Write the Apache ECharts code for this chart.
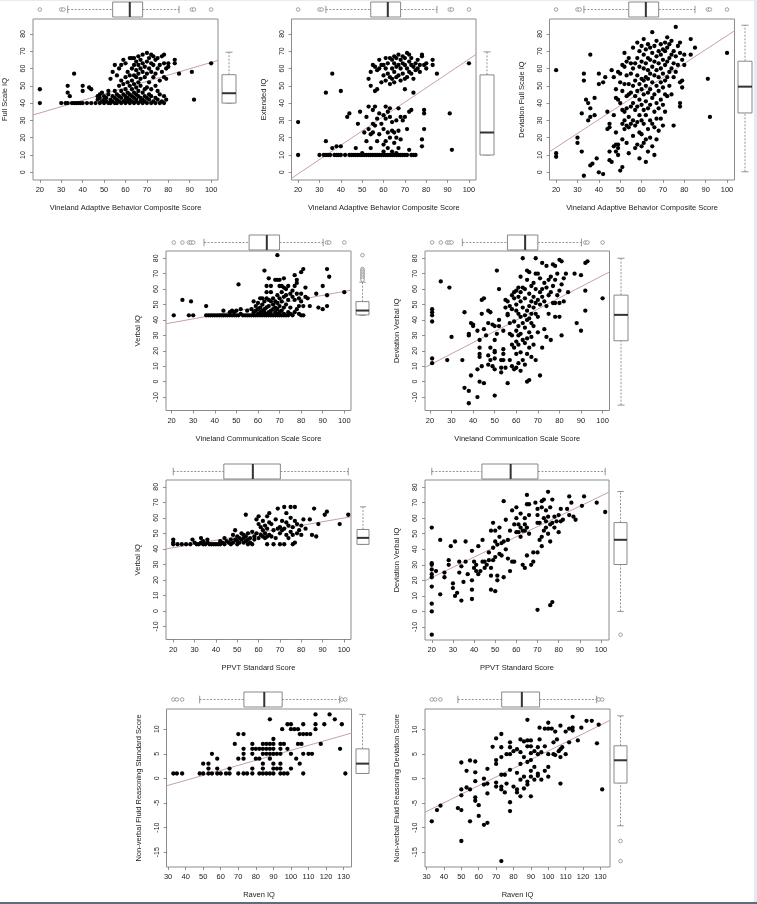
<!DOCTYPE html>
<html><head><meta charset="utf-8">
<script src="https://cdn.jsdelivr.net/npm/echarts@6/dist/echarts.min.js"></script>
<style>
html,body{margin:0;padding:0;background:#fff;}
#wrap{position:relative;width:757px;height:904px;overflow:hidden;}
#chart{position:absolute;left:0;top:0;width:757px;height:904px;}
.edgeR{position:absolute;right:0;top:0;width:3px;height:904px;background:#e3eaf3;}
.edgeT{position:absolute;left:0;top:0;width:757px;height:1px;background:#e6ecf4;}
.edgeB{position:absolute;left:0;bottom:0;width:757px;height:2px;background:#5d6d7e;}
</style></head>
<body><div id="wrap"><div id="chart"></div><div class="edgeR"></div><div class="edgeT"></div><div class="edgeB"></div></div>
<script>
// ---------------- DATA ----------------
const xTitles = ['Vineland Adaptive Behavior Composite Score','Vineland Adaptive Behavior Composite Score','Vineland Adaptive Behavior Composite Score',
  'Vineland Communication Scale Score','Vineland Communication Scale Score','PPVT Standard Score','PPVT Standard Score','Raven IQ','Raven IQ'];
const yTitles = ['Full Scale IQ','Extended IQ','Deviation Full Scale IQ','Verbal IQ','Deviation Verbal IQ','Verbal IQ','Deviation Verbal IQ',
  'Non-verbal Fluid Reasoning Standard Score','Non-verbal Fluid Reasoning Deviation Score'];

const xTicksScore = [20,30,40,50,60,70,80,90,100];
const xTicksRaven = [30,40,50,60,70,80,90,100,110,120,130];
const yTicksIQ = [0,10,20,30,40,50,60,70,80];
const yTicksVerbal = [-10,0,10,20,30,40,50,60,70,80];
const yTicksNFR = [-15,-10,-5,0,5,10];

const p1Points = [[20,48],[20,40],[30,40],[32,40],[33,40],[33,50],[33,46],[34,44],[35,40],[36,57],[36,40],[37,40],[38,40],[39,40],[40,50],[40,47],[40,40],[42,40],[43,49],[44,48],[44,40],[46,40],[47,42],[47,44],[48,40],[48,45],[48,43],[49,41],[49,46],[50,40],[50,42],[50,44],[51,41],[51,43],[52,40],[52,45],[52,47],[53,42],[53,54],[53,40],[54,44],[54,41],[54,58],[55,40],[55,43],[55,47],[55,62],[56,42],[56,45],[56,40],[56,56],[57,41],[57,44],[57,50],[57,60],[58,40],[58,43],[58,47],[58,62],[58,53],[59,41],[59,45],[59,51],[59,65],[60,40],[60,42],[60,44],[60,48],[60,55],[60,63],[61,41],[61,43],[61,46],[61,52],[61,58],[62,40],[62,42],[62,45],[62,50],[62,56],[62,66],[63,41],[63,44],[63,48],[63,53],[63,60],[63,66],[64,40],[64,43],[64,46],[64,51],[64,56],[64,62],[64,66],[65,41],[65,42],[65,45],[65,49],[65,55],[65,59],[65,64],[66,40],[66,44],[66,47],[66,52],[66,57],[66,62],[66,67],[67,41],[67,43],[67,50],[67,54],[67,60],[67,65],[68,40],[68,42],[68,46],[68,58],[68,63],[68,68],[69,41],[69,44],[69,48],[69,55],[69,61],[70,40],[70,43],[70,49],[70,57],[70,64],[70,69],[71,42],[71,45],[71,52],[71,60],[71,66],[72,40],[72,44],[72,48],[72,58],[72,63],[72,68],[73,41],[73,55],[73,62],[73,67],[74,40],[74,43],[74,50],[74,57],[74,65],[75,42],[75,47],[75,60],[75,66],[76,40],[76,45],[76,53],[76,62],[77,41],[77,58],[77,67],[78,40],[78,44],[78,55],[78,63],[78,68],[79,42],[79,54],[79,60],[80,61],[80,63],[83,63],[83,65],[85,57],[91,58],[92,42],[100,63]];

const p2Points = [[20,29],[20,10],[30,10],[32,10],[33,10],[33,18],[33,46],[34,10],[35,10],[36,14],[36,57],[37,10],[38,10],[38,15],[39,10],[40,10],[40,15],[40,47],[42,10],[43,32],[44,34],[44,10],[45,10],[46,10],[47,10],[47,14],[48,10],[48,28],[49,10],[49,35],[50,10],[50,11],[51,10],[51,23],[52,10],[52,18],[52,32],[53,10],[53,25],[53,38],[53,54],[54,10],[54,14],[54,22],[54,58],[54,50],[55,10],[55,23],[55,28],[55,36],[55,62],[56,10],[56,27],[56,38],[56,47],[56,61],[57,10],[57,18],[57,31],[57,48],[57,59],[58,10],[58,22],[58,34],[58,60],[58,65],[59,10],[59,28],[59,52],[59,62],[60,10],[60,12],[60,16],[60,25],[60,33],[60,56],[60,62],[61,10],[61,18],[61,31],[61,38],[61,53],[61,60],[61,66],[62,10],[62,14],[62,23],[62,35],[62,57],[62,63],[63,10],[63,20],[63,32],[63,37],[63,51],[63,55],[63,66],[64,10],[64,12],[64,24],[64,29],[64,54],[64,60],[64,65],[65,10],[65,17],[65,23],[65,52],[65,58],[65,63],[65,67],[66,10],[66,11],[66,20],[66,30],[66,55],[66,61],[66,66],[67,10],[67,14],[67,24],[67,37],[67,56],[67,62],[67,68],[68,10],[68,19],[68,32],[68,53],[68,60],[68,65],[69,10],[69,30],[69,57],[69,63],[69,67],[70,10],[70,32],[70,48],[70,54],[70,62],[70,66],[71,10],[71,25],[71,55],[71,60],[71,69],[72,13],[72,35],[72,58],[72,64],[72,68],[73,10],[73,36],[73,57],[73,62],[73,66],[74,10],[74,46],[74,54],[74,61],[75,10],[75,59],[75,63],[76,60],[76,65],[77,58],[77,62],[78,15],[78,19],[78,67],[78,68],[79,25],[79,34],[79,36],[79,62],[80,63],[80,60],[83,62],[83,65],[85,57],[91,34],[92,13],[100,63]];

const p3Points = [[20,59],[20,11],[20,9],[30,20],[30,17],[32,12],[32,34],[33,-2],[33,53],[33,57],[34,42],[35,40],[35,30],[36,37],[36,68],[36,32],[36,4],[37,5],[38,33],[38,43],[39,8],[40,57],[40,51],[40,0],[42,-1],[42,52],[43,55],[44,35],[44,25],[45,26],[45,28],[45,12],[45,7],[46,6],[46,59],[47,55],[47,33],[47,15],[48,43],[48,48],[48,12],[48,16],[48,23],[49,14],[49,16],[49,10],[49,42],[49,58],[50,1],[50,40],[50,52],[50,57],[51,3],[51,19],[51,28],[51,36],[51,47],[51,62],[52,25],[52,30],[52,35],[52,51],[52,61],[52,69],[53,17],[53,27],[53,37],[53,44],[53,56],[53,64],[54,11],[54,26],[54,32],[54,45],[54,51],[54,66],[55,28],[55,38],[55,46],[55,57],[55,63],[56,21],[56,30],[56,40],[56,50],[56,60],[56,72],[57,14],[57,27],[57,36],[57,44],[57,53],[57,63],[58,16],[58,29],[58,38],[58,47],[58,56],[58,66],[58,75],[59,8],[59,23],[59,33],[59,42],[59,51],[59,61],[59,70],[60,15],[60,22],[60,30],[60,39],[60,48],[60,54],[60,64],[60,73],[61,17],[61,28],[61,36],[61,45],[61,53],[61,60],[61,68],[61,77],[62,6],[62,19],[62,33],[62,41],[62,50],[62,55],[62,63],[62,71],[63,12],[63,25],[63,37],[63,46],[63,54],[63,59],[63,66],[63,74],[64,20],[64,30],[64,39],[64,48],[64,57],[64,65],[64,72],[65,15],[65,28],[65,43],[65,52],[65,61],[65,69],[65,81],[66,10],[66,26],[66,35],[66,45],[66,56],[66,64],[66,73],[67,19],[67,31],[67,40],[67,50],[67,59],[67,67],[67,76],[68,24],[68,37],[68,47],[68,55],[68,63],[68,70],[69,31],[69,42],[69,52],[69,60],[69,68],[69,74],[70,27],[70,39],[70,49],[70,57],[70,65],[70,71],[71,35],[71,45],[71,53],[71,62],[71,70],[71,75],[72,44],[72,55],[72,64],[72,72],[72,78],[73,50],[73,58],[73,66],[73,74],[74,45],[74,60],[74,68],[74,76],[75,27],[75,55],[75,63],[75,70],[76,58],[76,84],[76,67],[77,62],[77,73],[78,38],[78,40],[78,52],[78,69],[78,75],[79,49],[79,53],[79,65],[80,62],[80,68],[83,68],[83,77],[85,72],[91,54],[92,32],[100,69]];

const p4Points = [[21,43],[25,53],[28,43],[29,52],[30,43],[36,49],[36,43],[37,43],[38,43],[39,43],[40,43],[41,43],[42,43],[43,43],[44,43],[44,46],[45,43],[46,43],[47,43],[47,45],[48,43],[48,46],[49,43],[49,45],[50,43],[50,46],[51,63],[51,43],[52,44],[52,47],[53,43],[54,43],[55,43],[55,46],[56,43],[57,43],[57,47],[58,43],[58,45],[58,52],[59,43],[59,46],[59,49],[60,43],[60,44],[60,47],[60,51],[61,43],[61,45],[61,48],[61,54],[62,43],[62,44],[62,46],[62,50],[62,54],[63,43],[63,45],[63,47],[63,52],[63,72],[64,43],[64,44],[64,48],[64,54],[64,58],[64,62],[65,43],[65,45],[65,49],[65,53],[65,67],[66,43],[66,44],[66,46],[66,52],[66,58],[66,62],[67,43],[67,47],[67,50],[67,54],[68,43],[68,45],[68,48],[68,52],[68,66],[69,43],[69,44],[69,47],[69,51],[69,56],[69,82],[69,66],[70,43],[70,45],[70,49],[70,54],[70,62],[70,66],[71,43],[71,46],[71,52],[71,58],[71,62],[72,43],[72,44],[72,48],[72,55],[72,67],[72,61],[73,43],[73,50],[73,56],[73,60],[74,43],[74,45],[74,53],[74,62],[75,44],[75,48],[75,57],[76,43],[76,55],[76,59],[77,45],[77,53],[77,69],[77,62],[78,47],[78,57],[78,64],[78,66],[79,44],[79,49],[79,54],[80,43],[80,52],[80,57],[80,71],[81,73],[81,43],[81,49],[82,55],[82,61],[83,54],[84,49],[87,57],[88,48],[90,47],[90,62],[92,49],[92,56],[92,73],[93,68],[100,58]];

const p5Points = [[21,47],[21,45],[21,43],[21,39],[21,15],[21,12],[25,65],[28,14],[29,61],[30,29],[35,14],[36,45],[36,-4],[38,-6],[38,-14],[38,30],[38,31],[39,38],[39,4],[40,37],[40,36],[42,33],[42,8],[42,-10],[43,27],[43,22],[43,18],[43,16],[43,0],[44,53],[44,44],[44,10],[45,-1],[45,54],[45,34],[46,30],[47,46],[47,38],[47,17],[47,11],[48,22],[48,14],[48,45],[49,37],[49,10],[50,36],[50,27],[50,20],[50,19],[50,15],[50,8],[50,-9],[51,72],[51,31],[52,60],[52,40],[52,36],[53,14],[53,9],[53,6],[54,33],[54,21],[54,18],[54,14],[55,9],[55,48],[55,53],[56,-1],[56,43],[56,44],[56,52],[57,31],[57,14],[57,38],[57,49],[58,56],[58,47],[58,30],[58,24],[58,10],[59,58],[59,54],[59,39],[59,22],[59,8],[60,59],[60,50],[60,46],[60,33],[60,26],[60,18],[60,9],[61,61],[61,55],[61,44],[61,36],[61,30],[61,24],[61,12],[62,68],[62,58],[62,52],[62,42],[62,31],[62,19],[62,7],[63,80],[63,61],[63,48],[63,38],[63,27],[63,14],[64,60],[64,54],[64,43],[64,35],[64,25],[64,11],[65,72],[65,66],[65,46],[65,40],[65,28],[65,18],[65,0],[66,71],[66,57],[66,49],[66,41],[66,32],[66,22],[66,1],[67,62],[67,52],[67,44],[67,38],[67,29],[67,16],[68,64],[68,55],[68,48],[68,36],[68,24],[69,80],[69,70],[69,60],[69,51],[69,44],[69,14],[70,70],[70,53],[70,42],[70,32],[71,67],[71,58],[71,50],[71,4],[72,77],[72,60],[72,22],[72,55],[73,64],[73,52],[73,34],[74,75],[74,61],[74,29],[74,49],[75,66],[75,56],[75,44],[76,68],[76,58],[76,27],[77,76],[77,51],[77,62],[78,75],[78,66],[78,42],[78,51],[79,56],[79,70],[80,79],[80,59],[80,42],[80,51],[81,78],[81,30],[81,63],[82,67],[82,52],[83,70],[84,58],[87,70],[88,38],[90,69],[90,33],[92,77],[92,59],[92,46],[93,78],[100,54]];

const p6Points = [[20,46],[20,44],[20,43],[22,43],[24,43],[26,43],[28,43],[29,46],[30,44],[31,43],[32,43],[33,47],[33,44],[34,43],[34,45],[35,43],[36,44],[36,46],[37,43],[38,43],[39,43],[40,43],[41,43],[42,45],[42,43],[43,44],[44,47],[44,43],[45,45],[46,44],[47,43],[47,46],[48,49],[48,44],[49,52],[49,46],[50,43],[50,45],[50,48],[51,44],[51,47],[52,50],[52,46],[53,44],[53,47],[53,49],[54,62],[54,45],[54,48],[55,43],[55,46],[55,50],[56,47],[56,44],[57,51],[57,43],[58,48],[58,46],[59,59],[59,50],[60,61],[60,47],[60,56],[61,49],[61,54],[62,48],[62,52],[62,58],[63,47],[63,50],[63,55],[64,43],[64,48],[64,53],[64,61],[65,63],[65,49],[65,57],[66,56],[66,48],[67,43],[67,52],[68,47],[68,59],[69,66],[69,53],[70,43],[70,50],[70,54],[71,52],[71,58],[72,43],[72,67],[72,53],[73,63],[73,49],[73,57],[74,47],[74,55],[75,67],[75,60],[75,51],[76,43],[76,54],[76,49],[77,44],[77,67],[77,58],[78,50],[78,56],[79,52],[80,49],[80,55],[81,59],[82,53],[84,59],[85,49],[86,66],[87,48],[88,56],[91,62],[92,64],[98,56],[102,62]];

const p7Points = [[20,54],[20,31],[20,30],[20,27],[20,24],[20,22],[20,16],[20,5],[20,0],[20,-15],[22,26],[24,46],[24,11],[26,25],[26,22],[28,33],[28,30],[29,42],[30,18],[30,15],[31,45],[31,10],[32,12],[33,32],[33,25],[34,7],[34,29],[35,19],[36,45],[36,32],[37,24],[39,39],[39,20],[39,14],[39,8],[40,32],[40,28],[41,30],[41,26],[42,24],[42,42],[43,26],[44,46],[44,32],[45,32],[45,28],[46,30],[47,38],[47,33],[48,52],[48,14],[48,28],[48,23],[49,57],[49,41],[49,33],[50,45],[50,35],[50,13],[50,52],[51,43],[51,20],[51,23],[52,48],[52,54],[52,37],[53,44],[53,36],[54,71],[54,45],[54,22],[55,59],[55,40],[56,46],[56,34],[57,52],[57,26],[58,65],[58,32],[59,56],[59,32],[60,67],[60,60],[60,51],[61,51],[61,56],[62,48],[62,63],[62,54],[63,30],[63,52],[64,28],[64,52],[64,56],[64,60],[65,75],[65,69],[65,36],[65,54],[66,62],[66,50],[66,69],[67,30],[68,32],[68,38],[69,70],[70,66],[70,62],[70,57],[70,38],[70,1],[71,46],[71,57],[72,71],[72,67],[72,48],[72,42],[73,72],[73,60],[73,52],[74,65],[74,58],[74,54],[75,77],[75,61],[75,50],[76,67],[76,56],[76,45],[76,4],[77,72],[77,6],[77,57],[78,61],[78,54],[79,58],[80,62],[80,51],[81,66],[81,58],[82,59],[84,66],[85,74],[85,62],[86,70],[87,61],[88,59],[91,68],[92,74],[98,70],[102,64]];

const p8Points = [[33,1],[35,1],[38,1],[48,1],[50,1],[50,3],[53,3],[53,2],[53,1],[55,5],[55,1],[58,4],[58,2],[58,1],[60,1],[63,1],[65,2],[65,1],[68,7],[70,9],[70,4],[70,1],[73,9],[73,6],[73,5],[73,4],[73,1],[75,1],[78,7],[78,6],[78,5],[78,2],[78,1],[80,6],[80,4],[82,6],[82,4],[82,1],[84,7],[84,6],[84,5],[84,3],[84,2],[84,1],[86,7],[86,6],[86,5],[86,1],[88,12],[88,7],[88,6],[88,5],[88,4],[88,1],[90,8],[90,7],[90,6],[90,5],[90,3],[90,2],[90,1],[92,5],[92,2],[94,7],[94,6],[94,5],[94,3],[94,2],[94,1],[95,10],[96,7],[96,1],[98,11],[98,6],[98,1],[100,11],[100,10],[100,5],[100,2],[102,10],[103,4],[104,10],[104,7],[105,9],[105,3],[106,7],[107,11],[107,9],[107,5],[107,1],[109,9],[110,5],[111,9],[112,5],[114,13],[114,11],[114,10],[117,7],[119,11],[122,13],[125,12],[128,6],[129,11],[131,1]];

const p9Points = [[33,-8.7],[36,-6.4],[38,-5.5],[48,-6],[50,-6.4],[50,-12.7],[50,3.3],[50,-2.2],[50,-3.4],[53,1.6],[53,-1.8],[55,3.7],[55,-8.7],[55,-2.2],[58,3.5],[58,1.3],[58,-0.5],[58,-3.8],[58,-4.5],[60,-5.4],[60,-7.6],[63,-9.4],[63,-1.2],[63,0],[65,2],[65,-1],[65,-3],[65,-9],[68,6.5],[70,8.2],[70,3.8],[70,3],[70,-0.8],[70,-1.6],[73,9.1],[73,6.4],[73,4.4],[73,0.8],[73,-1.6],[73,-2.2],[73,-16.8],[75,0.8],[75,-2.8],[76,5],[76,-1],[78,7.4],[78,6.4],[78,5],[78,1.8],[78,-4.8],[78,-6.6],[80,5.6],[80,-1.6],[82,6],[82,1.2],[82,-2.2],[82,-2.8],[84,8],[84,5.4],[84,3],[84,-0.2],[84,-3.6],[86,7.6],[86,4.4],[86,0.4],[86,-2],[88,12],[88,7.8],[88,6.6],[88,3.4],[88,-0.6],[88,-1.2],[90,7.8],[90,6.6],[90,5.2],[90,3.8],[90,1.6],[90,0.4],[90,-3.6],[92,5.6],[92,2.4],[92,-0.2],[94,6.4],[94,5],[94,1],[94,0.6],[95,10.4],[95,8],[96,5.4],[96,-0.2],[98,10.2],[98,6.6],[98,1.6],[100,11.4],[100,10.2],[100,5],[100,2.4],[100,0.4],[102,10.2],[103,7.4],[103,5],[104,9.6],[104,4.8],[105,8],[106,5.6],[107,10.8],[107,6],[107,4.4],[107,-1],[108,6.4],[110,9.6],[110,5],[112,7.4],[112,10.2],[114,12.6],[114,10.4],[114,9.8],[117,7.8],[119,10.4],[122,11.8],[125,11.8],[128,7.2],[129,11],[131,-2.2]];

// box statistics: [Q1, median, Q3, lower whisker, upper whisker]
const topBoxStats = [[54,62,68,33,85],[54,62,68,33,85],[54,62,68,33,85],
  [55.9,64.1,70,35,90.2],[55.9,64.1,70,35,90.2],[43.7,57.3,70.2,20,102],[43.7,57.3,70.2,20,102],
  [73.2,84.8,95,48,127.8],[73.2,84.8,95,48,127.8]];
const rightBoxStats = [[40,45.7,56.4,40,69.4],[10,23,56.3,10,69.6],[34.3,49.5,64.2,0.3,85],
  [43.3,46.1,51.9,43,64.5],[26.5,43.3,56.1,-15.2,80],[42.9,47.1,52.5,43,67.1],[30.2,46.1,57.2,0,77.2],
  [1,3,6,1,13],[-0.9,3.75,6.7,-9.6,12.8]];
const topOutliers = [[20,30,31,91,92,100],[20,30,31,91,92,100],[20,30,31,91,92,100],
  [21,25,28,29,30,92,93,100],[21,25,28,29,30,92,93,100],[],[],[33,35,38,129,131],[33,35,38,129,131]];
const rightOutliers = [[],[],[],[82,73,72,71,70,69,68,67,66],[],[],[-15],[],[-12.7,-16.8]];

// fitted regression lines
const fitIntercept = [27.0,-17.5,-1.75,33.1,-3.6,36.0,8.7,-4.46,-11.96];
const fitSlope = [0.365,0.829,0.807,0.254,0.724,0.239,0.656,0.1016,0.176];

const allPoints = [p1Points,p2Points,p3Points,p4Points,p5Points,p6Points,p7Points,p8Points,p9Points];
const xTickSets = [xTicksScore,xTicksScore,xTicksScore,xTicksScore,xTicksScore,xTicksScore,xTicksScore,xTicksRaven,xTicksRaven];
const yTickSets = [yTicksIQ,yTicksIQ,yTicksIQ,yTicksVerbal,yTicksVerbal,yTicksVerbal,yTicksVerbal,yTicksNFR,yTicksNFR];

// ---------------- LAYOUT ----------------
const layout = [
  {L:33,R:218,T:19,B:180,xMin:16.8,xMax:103.2,yMin:-4.45,yMax:88.6,tbT:2,tbB:17,rbL:222,rbR:236},
  {L:291.5,R:476,T:19,B:180,xMin:16.9,xMax:103.3,yMin:-4.45,yMax:88.6,tbT:2,tbB:17,rbL:480,rbR:494},
  {L:549.5,R:734.5,T:19,B:180,xMin:16.9,xMax:103.5,yMin:-4.45,yMax:88.6,tbT:2,tbB:17,rbL:738,rbR:752},
  {L:166,R:351,T:251,B:410.5,xMin:17.4,xMax:103.1,yMin:-18.7,yMax:84.7,tbT:235,tbB:250,rbL:356,rbR:369},
  {L:425,R:609.5,T:251,B:410.5,xMin:17.7,xMax:103.2,yMin:-18.7,yMax:84.7,tbT:235,tbB:250,rbL:614,rbR:628},
  {L:166,R:351,T:480,B:639.5,xMin:16.6,xMax:103.3,yMin:-18.4,yMax:84.4,tbT:464,tbB:479,rbL:357,rbR:369},
  {L:425,R:609,T:480,B:640,xMin:16.8,xMax:103.8,yMin:-18.4,yMax:84.6,tbT:464,tbB:479,rbL:614,rbR:627},
  {L:166.5,R:351.5,T:709,B:867,xMin:29.1,xMax:134.5,yMin:-18,yMax:14.1,tbT:692,tbB:707,rbL:356,rbR:369},
  {L:425,R:610,T:709,B:867,xMin:29.1,xMax:135.5,yMin:-18,yMax:14.2,tbT:692,tbB:707,rbL:614,rbR:627}
];

const FONT = '"Liberation Sans", Arial, sans-serif';
const TXT = '#222';
const FRAME = '#8c8c8c';
const BOXC = '#7a7a7a';

function boxH(params, api){
  const q1=api.value(0), md=api.value(1), q3=api.value(2), lo=api.value(3), hi=api.value(4);
  const yT=api.coord([q1,1])[1], yB=api.coord([q1,0])[1], yM=(yT+yB)/2, h=yB-yT;
  const X=v=>api.coord([v,0.5])[0];
  const dash={stroke:BOXC,lineWidth:0.8,lineDash:[2,1.5],fill:null};
  const solid={stroke:BOXC,lineWidth:0.8,fill:null};
  return {type:'group',children:[
    {type:'line',shape:{x1:X(lo),y1:yM,x2:X(q1),y2:yM},style:dash},
    {type:'line',shape:{x1:X(q3),y1:yM,x2:X(hi),y2:yM},style:dash},
    {type:'line',shape:{x1:X(lo),y1:yM-h/4,x2:X(lo),y2:yM+h/4},style:solid},
    {type:'line',shape:{x1:X(hi),y1:yM-h/4,x2:X(hi),y2:yM+h/4},style:solid},
    {type:'rect',shape:{x:X(q1),y:yT,width:X(q3)-X(q1),height:h},style:{fill:'#fff',stroke:BOXC,lineWidth:0.9}},
    {type:'line',shape:{x1:X(md),y1:yT,x2:X(md),y2:yB},style:{stroke:'#333',lineWidth:2}}
  ]};
}
function boxV(params, api){
  const q1=api.value(0), md=api.value(1), q3=api.value(2), lo=api.value(3), hi=api.value(4);
  const xL=api.coord([0,q1])[0], xR=api.coord([1,q1])[0], xM=(xL+xR)/2, w=xR-xL;
  const Y=v=>api.coord([0.5,v])[1];
  const dash={stroke:BOXC,lineWidth:0.8,lineDash:[2,1.5],fill:null};
  const solid={stroke:BOXC,lineWidth:0.8,fill:null};
  return {type:'group',children:[
    {type:'line',shape:{x1:xM,y1:Y(lo),x2:xM,y2:Y(q1)},style:dash},
    {type:'line',shape:{x1:xM,y1:Y(q3),x2:xM,y2:Y(hi)},style:dash},
    {type:'line',shape:{x1:xM-w/4,y1:Y(lo),x2:xM+w/4,y2:Y(lo)},style:solid},
    {type:'line',shape:{x1:xM-w/4,y1:Y(hi),x2:xM+w/4,y2:Y(hi)},style:solid},
    {type:'rect',shape:{x:xL,y:Y(q3),width:w,height:Y(q1)-Y(q3)},style:{fill:'#fff',stroke:BOXC,lineWidth:0.9}},
    {type:'line',shape:{x1:xL,y1:Y(md),x2:xR,y2:Y(md)},style:{stroke:'#333',lineWidth:2}}
  ]};
}

const grid=[], xAxis=[], yAxis=[], series=[];
layout.forEach((p,i)=>{
  // main scatter grid
  const g = grid.length;
  grid.push({left:p.L, top:p.T, width:p.R-p.L, height:p.B-p.T, show:true, borderColor:FRAME, borderWidth:1, backgroundColor:'rgba(0,0,0,0)'});
  xAxis.push({gridIndex:g, type:'value', min:p.xMin, max:p.xMax, position:'bottom',
    name:xTitles[i], nameLocation:'middle', nameGap:24,
    nameTextStyle:{fontFamily:FONT, fontSize:7.5, color:TXT},
    axisLine:{show:false, onZero:false},
    axisTick:{show:true, length:3, inside:false, lineStyle:{color:'#777',width:0.8}, customValues:xTickSets[i]},
    axisLabel:{show:true, customValues:xTickSets[i], fontFamily:FONT, fontSize:7.5, color:TXT, margin:6},
    splitLine:{show:false}});
  yAxis.push({gridIndex:g, type:'value', min:p.yMin, max:p.yMax, position:'left',
    name:yTitles[i], nameLocation:'middle', nameGap:24,
    nameTextStyle:{fontFamily:FONT, fontSize:7.5, color:TXT},
    axisLine:{show:false, onZero:false},
    axisTick:{show:true, length:3, inside:false, lineStyle:{color:'#777',width:0.8}, customValues:yTickSets[i]},
    axisLabel:{show:true, customValues:yTickSets[i], rotate:90, fontFamily:FONT, fontSize:7, color:TXT, margin:6},
    splitLine:{show:false}});
  series.push({type:'scatter', xAxisIndex:g, yAxisIndex:g, data:allPoints[i], symbol:'circle', symbolSize:4.3,
    itemStyle:{color:'#000', opacity:1}, silent:true, z:3});
  series.push({type:'line', xAxisIndex:g, yAxisIndex:g, showSymbol:false, silent:true, clip:true, z:2,
    data:[[p.xMin, fitIntercept[i]+fitSlope[i]*p.xMin],[p.xMax, fitIntercept[i]+fitSlope[i]*p.xMax]],
    lineStyle:{color:'#c9a0a0', width:1}});
  // top boxplot grid
  const gt = grid.length;
  grid.push({left:p.L, top:p.tbT, width:p.R-p.L, height:p.tbB-p.tbT});
  xAxis.push({gridIndex:gt, type:'value', min:p.xMin, max:p.xMax, show:false});
  yAxis.push({gridIndex:gt, type:'value', min:0, max:1, show:false});
  series.push({type:'custom', xAxisIndex:gt, yAxisIndex:gt, renderItem:boxH, data:[topBoxStats[i]], silent:true, clip:false});
  series.push({type:'scatter', xAxisIndex:gt, yAxisIndex:gt, data:topOutliers[i].map(v=>[v,0.5]), symbol:'circle', symbolSize:3.6,
    itemStyle:{color:'#fff', borderColor:'#8a8a8a', borderWidth:0.8, opacity:1}, silent:true});
  // right boxplot grid
  const gr = grid.length;
  grid.push({left:p.rbL, top:p.T, width:p.rbR-p.rbL, height:p.B-p.T});
  xAxis.push({gridIndex:gr, type:'value', min:0, max:1, show:false});
  yAxis.push({gridIndex:gr, type:'value', min:p.yMin, max:p.yMax, show:false});
  series.push({type:'custom', xAxisIndex:gr, yAxisIndex:gr, renderItem:boxV, data:[rightBoxStats[i]], silent:true, clip:false});
  series.push({type:'scatter', xAxisIndex:gr, yAxisIndex:gr, data:rightOutliers[i].map(v=>[0.5,v]), symbol:'circle', symbolSize:3.6,
    itemStyle:{color:'#fff', borderColor:'#8a8a8a', borderWidth:0.8, opacity:1}, silent:true});
});

const chart = echarts.init(document.getElementById('chart'), null, {renderer:'canvas'});
chart.setOption({animation:false, backgroundColor:'#ffffff', grid, xAxis, yAxis, series});
</script>
</body></html>
